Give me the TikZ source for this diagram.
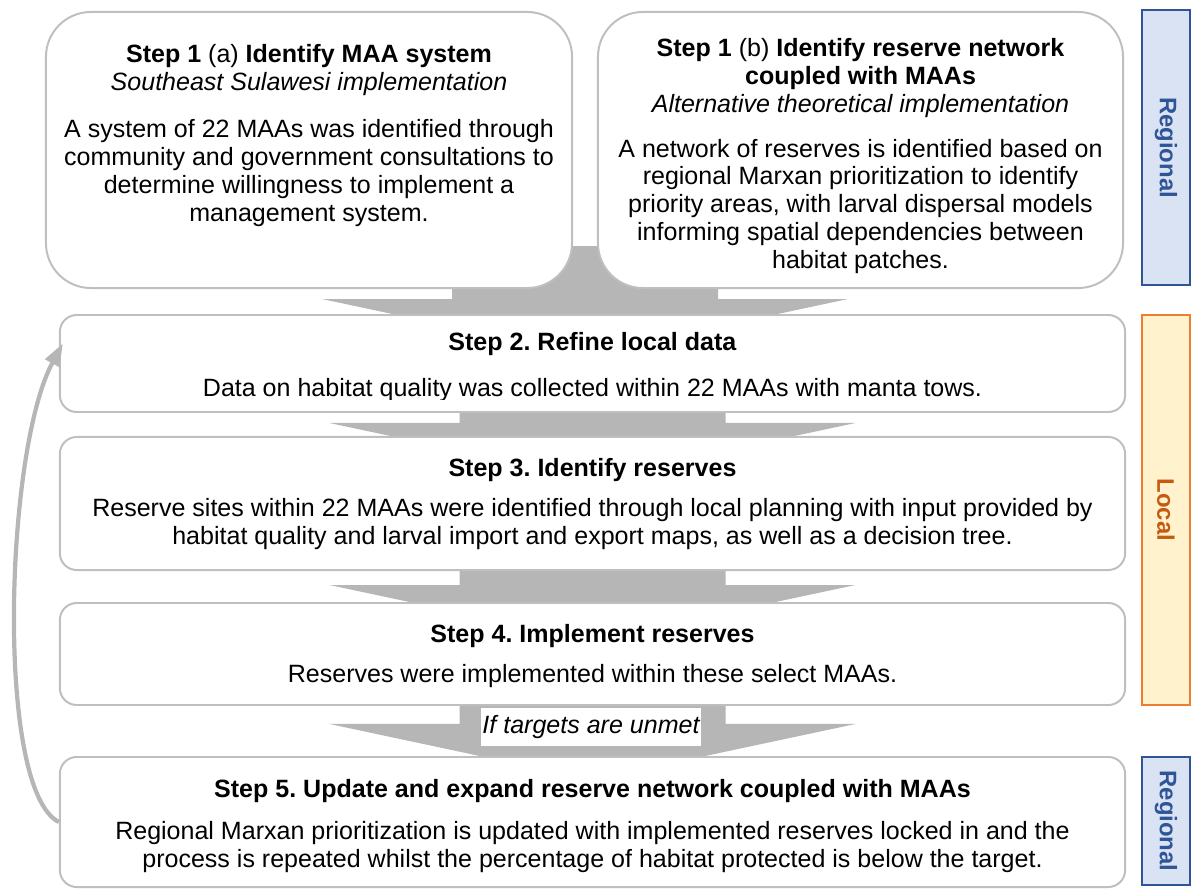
\documentclass[tikz,border=0pt]{standalone}
\usepackage{fontspec}
\setmainfont{Liberation Sans}
\usetikzlibrary{positioning, arrows.meta, calc}
\frenchspacing

\definecolor{boxgrey}{RGB}{191,191,191}
\definecolor{flowgrey}{RGB}{182,182,182}
\definecolor{regfill}{RGB}{218,227,243}
\definecolor{regline}{RGB}{47,85,151}
\definecolor{locfill}{RGB}{255,242,204}
\definecolor{locline}{RGB}{237,125,49}
\definecolor{loctext}{RGB}{197,90,17}

\newcommand{\txt}{\fontsize{17.8}{19.85}\selectfont}

\pgfdeclarelayer{background}
\pgfsetlayers{background,main}

% wide grey arrow: #1 top of stem, #2 stem length
\newcommand{\flowdown}[2]{%
  \fill[flowgrey] ($#1+(-133,0)$) -- ++(0,#2) -- ++(-130,0)
    -- ($#1+(0,#2+56)$) -- ($#1+(263,#2)$) -- ++(-130,0)
    -- ($#1+(133,0)$) -- cycle;}

\tikzset{
  stepbox/.style={draw=boxgrey, line width=1.4pt, fill=white,
    rounded corners=12pt, inner sep=0pt},
  firstbox/.style={stepbox, rounded corners=32pt},
  steptext/.style={align=center, inner sep=0pt, anchor=north, font=\txt},
  scalebar/.style={line width=1.3pt, inner sep=0pt, rotate=-90,
    minimum height=1.2cm, font=\fontsize{17}{20}\selectfont\bfseries},
}

\begin{document}
\begin{tikzpicture}[x=0.025cm, y=-0.025cm]
\useasboundingbox (0,0) rectangle (1199,892);

% step boxes
\node[firstbox, minimum width=13.15cm, minimum height=6.9cm] (s1a) at (309,150) {};
\node[firstbox, minimum width=13.125cm, minimum height=6.9cm] (s1b) at (860.5,150) {};
\node[stepbox, minimum width=26.625cm, minimum height=2.425cm] (s2) at (592.5,363.5) {};
\node[stepbox, minimum width=26.625cm, minimum height=3.325cm] (s3) at (592.5,503.5) {};
\node[stepbox, minimum width=26.625cm, minimum height=2.55cm] (s4) at (592.5,654) {};
\node[stepbox, minimum width=26.625cm, minimum height=3.25cm] (s5) at (592.5,822) {};

% texts
\node[steptext] (s1atext) at ($(s1a.north)+(0,33)$)
  {\textbf{Step 1} (a) \textbf{Identify MAA system}\\
   \textit{Southeast Sulawesi implementation}\\[14pt]
   A system of 22 MAAs was identified through\\
   community and government consultations to\\
   determine willingness to implement a\\
   management system.};
\node[steptext] (s1btext) at ($(s1b.north)+(0,27)$)
  {\textbf{Step 1} (b) \textbf{Identify reserve network}\\
   \textbf{coupled with MAAs}\\
   \textit{Alternative theoretical implementation}\\[12pt]
   A network of reserves is identified based on\\
   regional Marxan prioritization to identify\\
   priority areas, with larval dispersal models\\
   informing spatial dependencies between\\
   habitat patches.};
\begin{scope}
  \clip (s2.north west) rectangle ($(s2.south east)+(0,-13)$);
  \node[steptext] (s2text) at ($(s2.north)+(0,18)$)
    {\textbf{Step 2. Refine local data}\\[13pt]
     Data on habitat quality was collected within 22 MAAs with manta tows.};
\end{scope}
\node[steptext] (s3text) at ($(s3.north)+(0,22)$)
  {\textbf{Step 3. Identify reserves}\\[9pt]
   Reserve sites within 22 MAAs were identified through local planning with input provided by\\
   habitat quality and larval import and export maps, as well as a decision tree.};
\node[steptext] (s4text) at ($(s4.north)+(0,22)$)
  {\textbf{Step 4. Implement reserves}\\[9pt]
   Reserves were implemented within these select MAAs.};
\node[steptext] (s5text) at ($(s5.north)+(0,23)$)
  {\textbf{Step 5. Update and expand reserve network coupled with MAAs}\\[10pt]
   Regional Marxan prioritization is updated with implemented reserves locked in and the\\
   process is repeated whilst the percentage of habitat protected is below the target.};

% scale bars
\node[scalebar, draw=regline, fill=regfill, text=regline, minimum width=6.875cm] (reg1) at (1166,147.5) {Regional};
\node[scalebar, draw=locline, fill=locfill, text=loctext, minimum width=9.75cm] (loc) at (1166,510) {Local};
\node[scalebar, draw=regline, fill=regfill, text=regline, minimum width=3.2cm] (reg2) at (1166,821) {Regional};

% grey arrows behind
\coordinate (a1) at ($(s1a.south east)!0.5!(s1b.south west)+(0,-43)$);
\begin{pgfonlayer}{background}
  \flowdown{(a1)}{53}
  \flowdown{(s2.south)}{10}
  \flowdown{(s3.south)}{14}
  \flowdown{(s4.south)}{18}
\end{pgfonlayer}

\node[fill=white, inner sep=0pt, minimum width=157pt, minimum height=27.6pt, font=\txt\itshape] (unmet) at (591,727) {If targets are unmet};

% loop back
\draw[flowgrey, line width=3pt, -{Triangle[length=16pt,width=11pt]}]
  (s5.west) .. controls (-5,790) and (5,450) .. ($(s2.west)+(4,-20)$);
\end{tikzpicture}
\end{document}
